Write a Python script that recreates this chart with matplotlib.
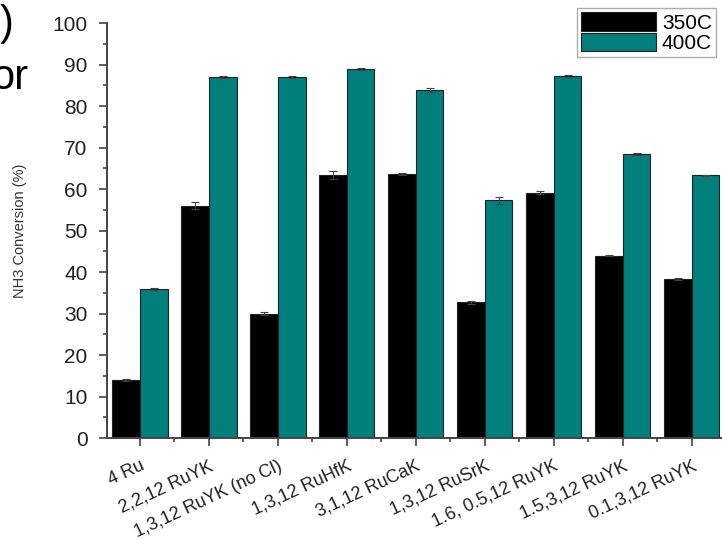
import matplotlib.pyplot as plt
import numpy as np
from matplotlib.ticker import MultipleLocator

plt.rcParams['font.family'] = ['Liberation Sans', 'DejaVu Sans']

catalysts = ['4 Ru', '2,2,12 RuYK', '1,3,12 RuYK (no Cl)', '1,3,12 RuHfK',
             '3,1,12 RuCaK', '1,3,12 RuSrK', '1.6, 0.5,12 RuYK',
             '1.5,3,12 RuYK', '0.1,3,12 RuYK']
conv_350 = [14.0, 56.0, 30.0, 63.5, 63.7, 32.7, 59.2, 44.0, 38.3]
err_350 = [0.3, 0.8, 0.3, 1.0, 0.2, 0.3, 0.3, 0.2, 0.2]
conv_400 = [36.0, 87.0, 87.0, 89.0, 84.0, 57.3, 87.3, 68.5, 63.3]
err_400 = [0.3, 0.3, 0.3, 0.2, 0.5, 0.9, 0.3, 0.2, 0.2]

teal = '#017f7c'
x = np.arange(len(catalysts))
w = 0.4

fig = plt.figure(figsize=(7.22, 5.39), dpi=100)
ax = fig.add_axes([0.148, 0.187, 0.856, 0.770])

ekw = dict(ecolor='#444444', elinewidth=0.8, capsize=3, capthick=0.8)
ax.bar(x - w / 2, conv_350, w, yerr=err_350, color='black',
       edgecolor='#222222', linewidth=0.8, label='350C', error_kw=ekw)
ax.bar(x + w / 2, conv_400, w, yerr=err_400, color=teal,
       edgecolor='#222222', linewidth=0.8, label='400C', error_kw=ekw)

ax.set_xlim(-0.48, 8.48)
ax.set_ylim(0, 100)
ax.yaxis.set_major_locator(MultipleLocator(10))
ax.yaxis.set_minor_locator(MultipleLocator(5))
ax.set_xticks(x)
ax.set_xticks(x[:-1] + 0.5, minor=True)
ax.set_xticklabels(catalysts, rotation=25, ha='right', rotation_mode='anchor',
                   fontsize=13, color='#222222')
ax.tick_params(axis='y', labelsize=15, length=6, width=1.2, color='#444444',
               labelcolor='#222222', pad=8)
ax.tick_params(axis='x', length=6, width=1.2, color='#444444', pad=8)
ax.tick_params(which='minor', length=3, width=1.2, color='#444444')

for side in ('top', 'right'):
    ax.spines[side].set_visible(False)
for side in ('left', 'bottom'):
    ax.spines[side].set_linewidth(1.4)
    ax.spines[side].set_color('#444444')

ax.set_ylabel('NH3 Conversion (%)', fontsize=10.5, color='#333333', labelpad=18)

leg = ax.legend(loc='upper right', bbox_to_anchor=(0.992, 0.985),
                bbox_transform=fig.transFigure, fontsize=15, frameon=True,
                fancybox=False, edgecolor='#999999', handlelength=3.6,
                handleheight=1.0, handletextpad=0.3, borderpad=0.2,
                labelspacing=0.0, borderaxespad=0)
leg.get_frame().set_linewidth(1.0)

# slide text running off the left edge
fig.text(0.0, 0.955, ')', fontsize=30, va='center', ha='left')
fig.text(-0.012, 0.855, 'or', fontsize=30, va='center', ha='left')

fig.savefig('out.png', dpi=100)
